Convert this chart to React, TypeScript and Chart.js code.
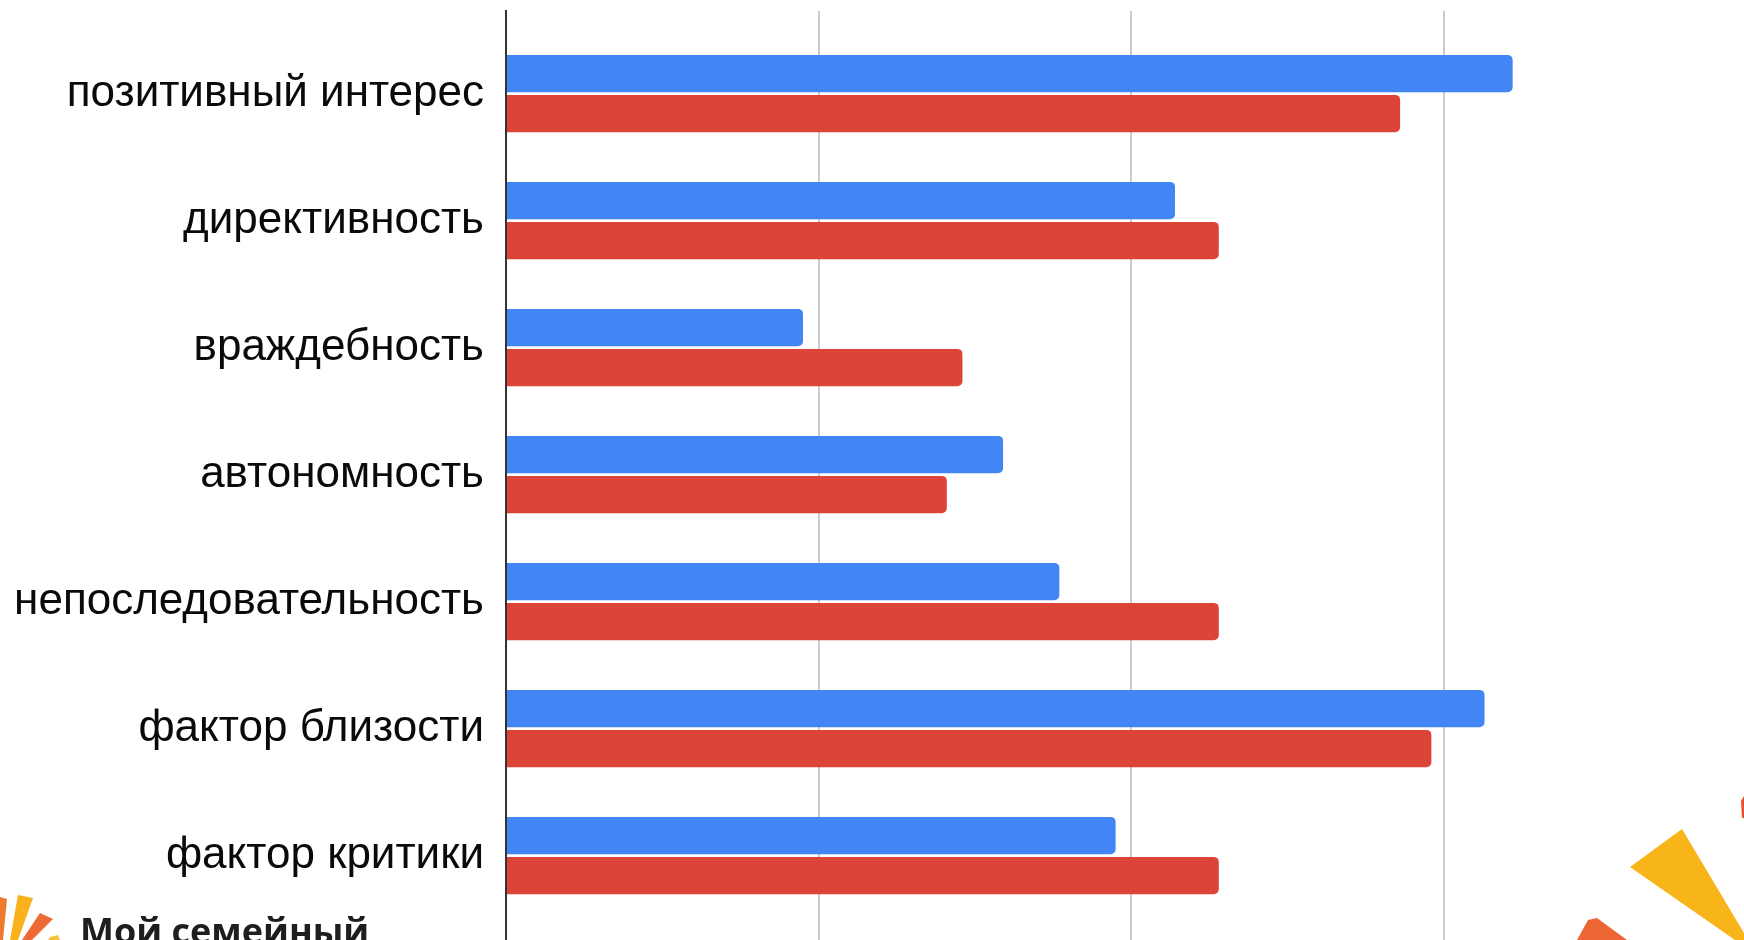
import React, { useEffect, useRef } from "react";
import { Chart, registerables } from "chart.js";

Chart.register(...registerables);

const categories = [
  "позитивный интерес",
  "директивность",
  "враждебность",
  "автономность",
  "непоследовательность",
  "фактор близости",
  "фактор критики",
];
const seriesBlue = [3.22, 2.14, 0.95, 1.59, 1.77, 3.13, 1.95];
const seriesRed = [2.86, 2.28, 1.46, 1.41, 2.28, 2.96, 2.28];
const logoText = "Мой семейный";

const W = 1744;
const H = 940;

const decorPlugin = {
  id: "decor",
  afterDraw(chart: any) {
    const ctx = chart.ctx as CanvasRenderingContext2D;
    const poly = (pts: number[][], color: string) => {
      ctx.beginPath();
      ctx.moveTo(pts[0][0], pts[0][1]);
      for (let i = 1; i < pts.length; i++) ctx.lineTo(pts[i][0], pts[i][1]);
      ctx.closePath();
      ctx.fillStyle = color;
      ctx.fill();
    };
    ctx.save();
    // left logo rays
    poly([[0, 897], [7, 899], [3, 940], [0, 940]], "#EE7A30");
    poly([[18, 895], [33, 898], [18, 940], [10, 940]], "#F9B21C");
    poly([[40, 913], [53, 919], [32, 940], [22, 940]], "#EE6A35");
    poly([[50, 937], [58, 935], [60, 940], [48, 940]], "#F9C23C");
    // logo text
    ctx.font = "bold 36px 'Open Sans'";
    ctx.fillStyle = "#1e1e1e";
    ctx.textBaseline = "alphabetic";
    ctx.textAlign = "left";
    ctx.fillText(logoText, 80, 944);
    // right decoration
    poly([[1630, 867], [1682, 829], [1744, 933], [1744, 940], [1735, 940]], "#F7B519");
    poly([[1577, 940], [1588, 920], [1597, 918], [1627, 940]], "#EC6532");
    poly([[1741, 801], [1744, 796], [1744, 818], [1742, 818]], "#E8502F");
    ctx.restore();
  },
};

export default function App() {
  const ref = useRef<HTMLCanvasElement | null>(null);
  useEffect(() => {
    document.body.style.margin = "0";
    document.body.style.overflow = "hidden";
    if (!ref.current) return;
    const chart = new Chart(ref.current, {
      type: "bar",
      data: {
        datasets: [
          {
            label: "A",
            data: categories.map((_, i) => ({ x: seriesBlue[i], y: i })),
            backgroundColor: "#4285F4",
            borderRadius: 5,
            borderSkipped: "start",
            categoryPercentage: 0.63,
            barPercentage: 0.933,
          },
          {
            label: "B",
            data: categories.map((_, i) => ({ x: seriesRed[i], y: i })),
            backgroundColor: "#DB4437",
            borderRadius: 5,
            borderSkipped: "start",
            categoryPercentage: 0.63,
            barPercentage: 0.933,
          },
        ],
      } as any,
      options: {
        indexAxis: "y",
        animation: false,
        responsive: false,
        maintainAspectRatio: false,
        devicePixelRatio: 1,
        layout: { padding: { top: 11, right: 0, bottom: 0, left: 0 } },
        plugins: { legend: { display: false }, tooltip: { enabled: false } },
        scales: {
          x: {
            type: "linear",
            position: "bottom",
            min: 0,
            max: 3.96,
            ticks: { display: false, stepSize: 1, includeBounds: false } as any,
            grid: { color: "#cccccc", lineWidth: 2, drawTicks: false },
            border: { display: false },
            afterFit: (scale: any) => {
              scale.height = 0;
              scale.paddingLeft = 0;
              scale.paddingRight = 0;
            },
          },
          y: {
            type: "linear",
            offset: false,
            min: -0.65,
            max: 6.665,
            reverse: true,
            afterBuildTicks: (scale: any) => {
              scale.ticks = categories.map((_, i) => ({ value: i }));
            },
            afterFit: (scale: any) => {
              scale.width = 506;
              scale.paddingTop = 0;
              scale.paddingBottom = 0;
            },
            ticks: {
              autoSkip: false,
              padding: 22,
              color: "#0a0a0a",
              font: { family: "'Liberation Sans', Arial", size: 44 },
              callback: (v: any) => categories[v] ?? "",
            },
            grid: { display: false, drawTicks: false, offset: false },
            border: { display: true, color: "#333333", width: 2, z: 1 } as any,
          },
        },
      } as any,
      plugins: [decorPlugin],
    });
    return () => chart.destroy();
  }, []);
  return (
    <div style={{ width: W, height: H, position: "relative", background: "#fff" }}>
      <canvas ref={ref} width={W} height={H} style={{ width: W, height: H, display: "block" }} />
    </div>
  );
}
